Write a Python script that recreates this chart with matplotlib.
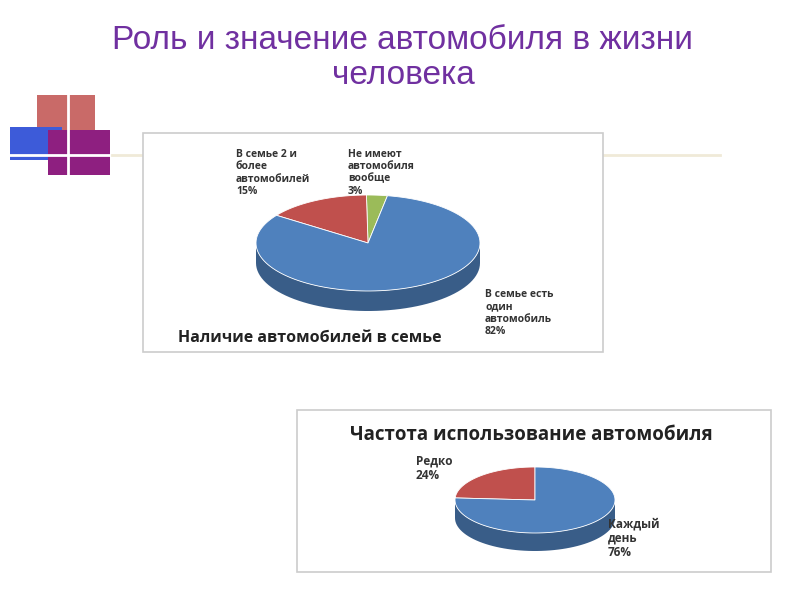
import numpy as np
import matplotlib.pyplot as plt
from matplotlib.patches import Rectangle, Polygon

TITLE = "Роль и значение автомобиля в жизни\nчеловека"

family_labels = ["Не имеют\nавтомобиля\nвообще\n3%", "В семье 2 и\nболее\nавтомобилей\n15%",
                 "В семье есть\nодин\nавтомобиль\n82%"]
family_values = [3, 15, 82]
family_colors = ["#9bbb59", "#c0504d", "#4f81bd"]

usage_labels = ["Редко\n24%", "Каждый\nдень\n76%"]
usage_values = [24, 76]
usage_colors = ["#c0504d", "#4f81bd"]


def darker(c, f=0.72):
    r, g, b = [int(c[i:i + 2], 16) / 255 for i in (1, 3, 5)]
    return (r * f, g * f, b * f)


def pie3d(ax, cx, cy, rx, ry, depth, values, colors, start):
    total = sum(values)
    a0 = start
    spans = []
    for v in values:
        a1 = a0 + 360 * v / total
        spans.append((a0, a1))
        a0 = a1
    # side walls (front half only)
    for (s, e), col in zip(spans, colors):
        for off in (0, 360):
            lo, hi = max(s, 180 + off), min(e, 360 + off)
            if hi > lo:
                t = np.radians(np.linspace(lo, hi, 60))
                x = cx + rx * np.cos(t)
                y = cy - ry * np.sin(t)
                pts = np.column_stack([np.r_[x, x[::-1]], np.r_[y, y[::-1] + depth]])
                ax.add_patch(Polygon(pts, closed=True, fc=darker(col), ec="none", zorder=2))
    # top faces
    for (s, e), col in zip(spans, colors):
        t = np.radians(np.linspace(s, e, 120))
        pts = np.column_stack([np.r_[cx, cx + rx * np.cos(t)], np.r_[cy, cy - ry * np.sin(t)]])
        ax.add_patch(Polygon(pts, closed=True, fc=col, ec="white", lw=0.6, zorder=3))


fig = plt.figure(figsize=(8, 6), dpi=100)
ax = fig.add_axes([0, 0, 1, 1])
ax.set_xlim(0, 800)
ax.set_ylim(600, 0)
ax.axis("off")

ax.text(403, 58, TITLE, ha="center", va="center", fontsize=24, color="#7030a0",
        family="Liberation Sans", linespacing=1.2)

# decoration
ax.add_patch(Rectangle((37, 95), 58, 40, fc="#c0504d", alpha=0.85, ec="none", zorder=0.2))
ax.add_patch(Rectangle((10, 127), 52, 33, fc="#3d5bd9", ec="none", zorder=0.2))
ax.add_patch(Rectangle((48, 130), 62, 45, fc="#8e1f80", ec="none", zorder=0.2))
ax.plot([68, 68], [88, 178], color="white", lw=2, zorder=0.3)
ax.plot([5, 112], [155, 155], color="white", lw=2, zorder=0.3)
ax.plot([112, 720], [155, 155], color="#f0ead8", lw=2, zorder=0.3)

# chart 1
ax.add_patch(Rectangle((143, 133), 460, 219, fc="white", ec="#cccccc", lw=1.2, zorder=1))
pie3d(ax, 368, 243, 112, 48, 20, family_values, family_colors, 80)
fs = dict(fontsize=7.5, fontweight="bold", color="#333333", family="Open Sans", linespacing=1.15)
ax.text(236, 173, family_labels[1], ha="left", va="center", **fs)
ax.text(348, 173, family_labels[0], ha="left", va="center", **fs)
ax.text(485, 313, family_labels[2], ha="left", va="center", **fs)
ax.text(178, 338, "Наличие автомобилей в семье", ha="left", va="center",
        fontsize=11.5, fontweight="bold", color="#222222", family="Open Sans")

# chart 2
ax.add_patch(Rectangle((297, 410), 474, 162, fc="white", ec="#cccccc", lw=1.2, zorder=1))
pie3d(ax, 535, 500, 80, 33, 18, usage_values, usage_colors, 90)
fs2 = dict(fs, fontsize=8.5)
ax.text(416, 468, usage_labels[0], ha="left", va="center", **fs2)
ax.text(608, 538, usage_labels[1], ha="left", va="center", **fs2)
ax.text(350, 435, "Частота использование автомобиля", ha="left", va="center",
        fontsize=13.5, fontweight="bold", color="#222222", family="Open Sans")

fig.savefig("out.png", dpi=100)
